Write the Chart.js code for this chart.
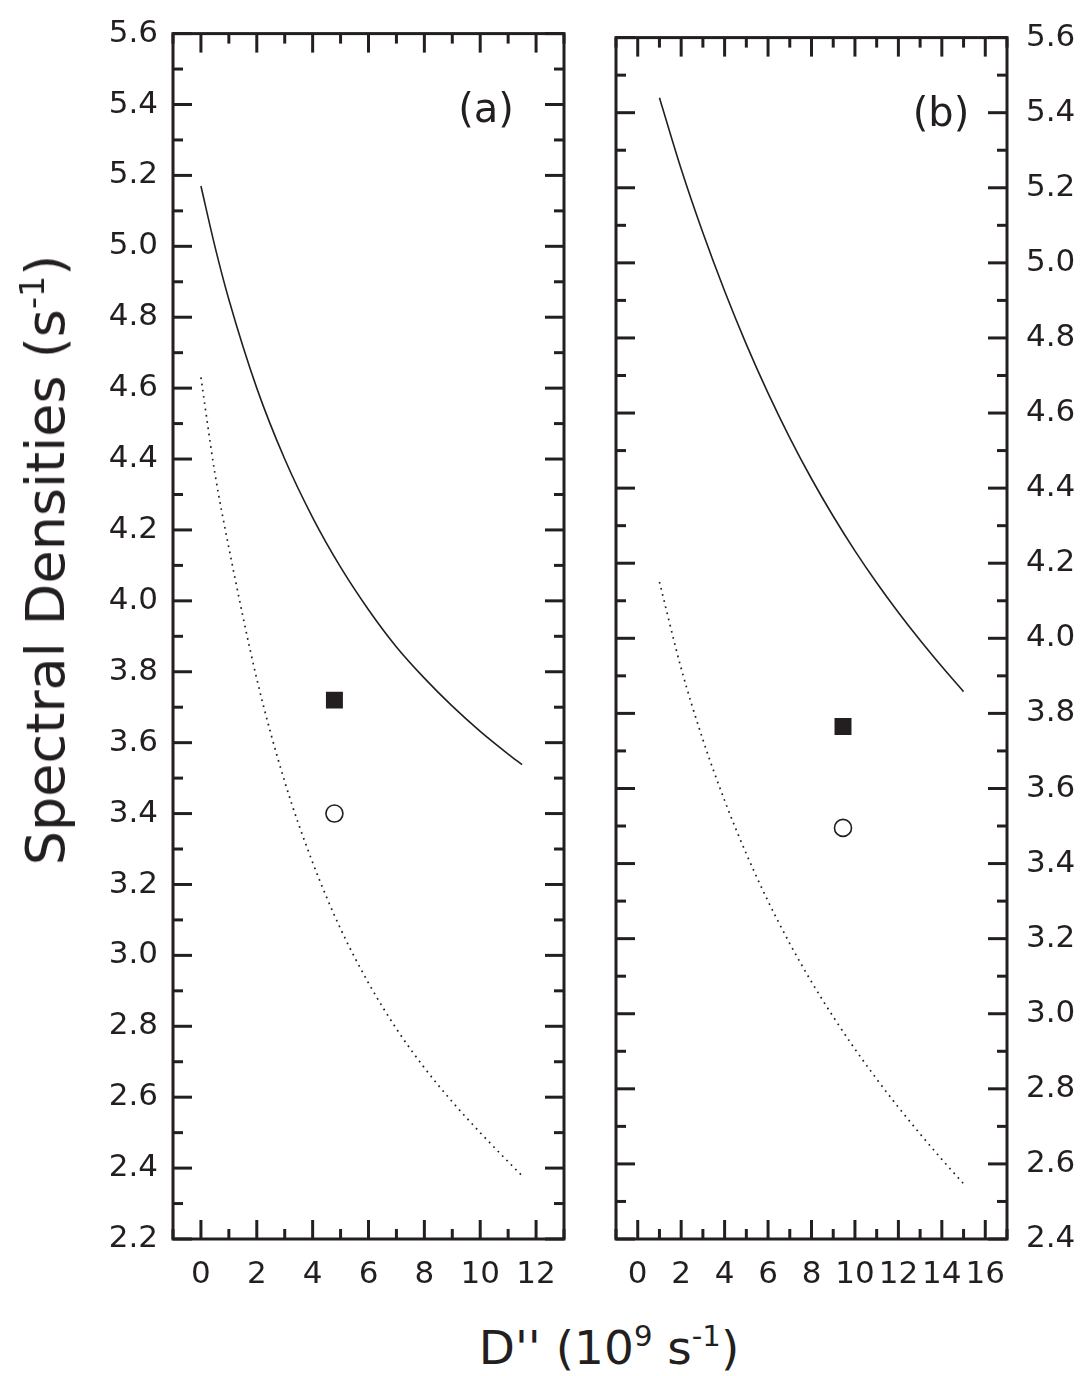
<!DOCTYPE html>
<html lang="en">
<head>
    <meta charset="UTF-8">
    <title>Spectral Densities vs D''</title>
    <script src="https://cdn.jsdelivr.net/npm/chart.js"></script>
    <style>
        body {
            margin: 0;
            background: #fff;
            font-family: "DejaVu Sans", sans-serif;
            color: #231f20;
        }
        #page {
            position: relative;
            width: 1083px;
            height: 1376px;
            overflow: hidden;
        }
        canvas {
            position: absolute;
            top: 0;
        }
        #chartA { left: 0; }
        #chartB { left: 590px; }
        .axis-title {
            position: absolute;
            white-space: nowrap;
            line-height: 1;
        }
        .axis-title sup {
            font-size: 0.62em;
            vertical-align: 0.6em;
            line-height: 0;
        }
        #yTitle {
            left: 46px;
            top: 560px;
            font-size: 54px;
            transform: translate(-50%, -50%) rotate(-90deg);
        }
        #xTitle {
            left: 609px;
            top: 1347px;
            font-size: 47px;
            transform: translate(-50%, -50%);
        }
    </style>
</head>
<body>
<div id="page">
    <canvas id="chartA" width="590" height="1300"></canvas>
    <canvas id="chartB" width="493" height="1300"></canvas>
    <div class="axis-title" id="yTitle">Spectral Densities (s<sup>-1</sup>)</div>
    <div class="axis-title" id="xTitle">D'' (10<sup>9</sup> s<sup>-1</sup>)</div>
</div>

<script>
    // panel (a)
    const xA = [0, 0.5, 1, 2, 3, 4, 5, 6, 7, 8, 9, 10, 11, 11.5];
    const solidA = [5.17, 5.00, 4.85, 4.60, 4.40, 4.235, 4.095, 3.975, 3.87, 3.782, 3.703, 3.632, 3.568, 3.538];
    const dottedA = [4.63, 4.36, 4.15, 3.78, 3.49, 3.262, 3.075, 2.922, 2.793, 2.683, 2.587, 2.50, 2.418, 2.378];
    const squareA = [{ x: 4.78, y: 3.72 }];
    const circleA = [{ x: 4.78, y: 3.40 }];

    // panel (b)
    const xB = [1, 2, 3, 4, 5, 6, 7, 8, 9, 10, 11, 12, 13, 14, 15];
    const solidB = [5.44, 5.25, 5.08, 4.925, 4.783, 4.653, 4.534, 4.425, 4.325, 4.233, 4.148, 4.069, 3.995, 3.925, 3.858];
    const dottedB = [4.15, 3.92, 3.73, 3.568, 3.426, 3.30, 3.187, 3.085, 2.992, 2.906, 2.826, 2.751, 2.68, 2.612, 2.547];
    const squareB = [{ x: 9.45, y: 3.765 }];
    const circleB = [{ x: 9.45, y: 3.495 }];

    // tick labels
    const xTicksA = [0, 2, 4, 6, 8, 10, 12];
    const xTicksB = [0, 2, 4, 6, 8, 10, 12, 14, 16];
    const yTicksA = [2.2, 2.4, 2.6, 2.8, 3.0, 3.2, 3.4, 3.6, 3.8, 4.0, 4.2, 4.4, 4.6, 4.8, 5.0, 5.2, 5.4, 5.6];
    const yTicksB = [2.4, 2.6, 2.8, 3.0, 3.2, 3.4, 3.6, 3.8, 4.0, 4.2, 4.4, 4.6, 4.8, 5.0, 5.2, 5.4, 5.6];

    const ink = '#231f20';
    const tickFont = { family: 'DejaVu Sans', size: 31 };

    const toPoints = (xs, ys) => xs.map((x, i) => ({ x: x, y: ys[i] }));

    // midpoints between major ticks, plus one step beyond each end
    function minorsOf(major) {
        const step = major[1] - major[0];
        const out = [major[0] - step / 2];
        major.forEach(v => out.push(v + step / 2));
        return out;
    }

    // box frame with inward ticks on all four sides + panel label
    const frameTicks = {
        id: 'frameTicks',
        afterDraw(chart, args, o) {
            const { ctx, chartArea: a } = chart;
            const xs = chart.scales.x, ys = chart.scales.y;
            ctx.save();
            ctx.strokeStyle = ink;
            ctx.lineWidth = 3;
            const seg = (x1, y1, x2, y2) => {
                ctx.beginPath();
                ctx.moveTo(x1, y1);
                ctx.lineTo(x2, y2);
                ctx.stroke();
            };
            const xTick = (v, len) => {
                if (v < xs.min || v > xs.max) return;
                const p = xs.getPixelForValue(v);
                seg(p, a.bottom, p, a.bottom - len);
                seg(p, a.top, p, a.top + len);
            };
            const yTick = (v, len) => {
                if (v < ys.min - 1e-9 || v > ys.max + 1e-9) return;
                const p = ys.getPixelForValue(v);
                seg(a.left, p, a.left + len, p);
                seg(a.right, p, a.right - len, p);
            };
            o.xMajor.forEach(v => xTick(v, 19));
            minorsOf(o.xMajor).forEach(v => xTick(v, 10));
            o.yMajor.forEach(v => yTick(v, 19));
            minorsOf(o.yMajor).forEach(v => yTick(v, 10));
            ctx.strokeRect(a.left, a.top, a.right - a.left, a.bottom - a.top);

            ctx.fillStyle = ink;
            ctx.font = '40px "DejaVu Sans"';
            ctx.textAlign = 'center';
            ctx.textBaseline = 'middle';
            ctx.fillText(o.label, a.right - o.labelDx, a.top + 78);
            ctx.restore();
        }
    };

    function makePanel(id, cfg) {
        return new Chart(document.getElementById(id), {
            type: 'scatter',
            data: {
                datasets: [
                    {
                        data: toPoints(cfg.xs, cfg.solid),
                        showLine: true,
                        borderColor: ink,
                        borderWidth: 1.6,
                        pointRadius: 0,
                        cubicInterpolationMode: 'monotone'
                    },
                    {
                        data: toPoints(cfg.xs, cfg.dotted),
                        showLine: true,
                        borderColor: ink,
                        borderWidth: 1.7,
                        borderDash: [1.7, 4.6],
                        pointRadius: 0,
                        cubicInterpolationMode: 'monotone'
                    },
                    {
                        data: cfg.square,
                        pointStyle: 'rect',
                        pointRadius: 12,
                        backgroundColor: ink,
                        borderColor: ink,
                        borderWidth: 0
                    },
                    {
                        data: cfg.circle,
                        pointStyle: 'circle',
                        pointRadius: 8.5,
                        backgroundColor: '#fff',
                        borderColor: ink,
                        borderWidth: 1.6
                    }
                ]
            },
            options: {
                responsive: false,
                animation: false,
                events: [],
                layout: { padding: cfg.padding },
                plugins: {
                    legend: { display: false },
                    tooltip: { enabled: false },
                    frameTicks: {
                        xMajor: cfg.xTicks,
                        yMajor: cfg.yTicks,
                        label: cfg.label,
                        labelDx: cfg.labelDx
                    }
                },
                scales: {
                    x: {
                        type: 'linear',
                        min: cfg.xMin,
                        max: cfg.xMax,
                        grid: { display: false, drawTicks: false },
                        border: { display: false },
                        afterBuildTicks: s => { s.ticks = cfg.xTicks.map(v => ({ value: v })); },
                        afterFit: s => { s.height = 61; },
                        ticks: {
                            autoSkip: false,
                            maxRotation: 0,
                            padding: 17,
                            color: ink,
                            font: tickFont,
                            callback: v => String(v)
                        }
                    },
                    y: {
                        type: 'linear',
                        position: cfg.yPos,
                        min: cfg.yMin,
                        max: cfg.yMax,
                        grid: { display: false, drawTicks: false },
                        border: { display: false },
                        afterBuildTicks: s => { s.ticks = cfg.yTicks.map(v => ({ value: v })); },
                        afterFit: s => { s.width = cfg.yWidth; },
                        ticks: {
                            autoSkip: false,
                            padding: cfg.yPad,
                            color: ink,
                            font: tickFont,
                            callback: v => Number(v).toFixed(1)
                        }
                    }
                }
            },
            plugins: [frameTicks]
        });
    }

    makePanel('chartA', {
        xs: xA, solid: solidA, dotted: dottedA, square: squareA, circle: circleA,
        xTicks: xTicksA, yTicks: yTicksA,
        xMin: -1, xMax: 13, yMin: 2.2, yMax: 5.6,
        yPos: 'left', yWidth: 173, yPad: 15,
        padding: { top: 30, right: 26, bottom: 0, left: 0 },
        label: '(a)', labelDx: 78
    });

    makePanel('chartB', {
        xs: xB, solid: solidB, dotted: dottedB, square: squareB, circle: circleB,
        xTicks: xTicksB, yTicks: yTicksB,
        xMin: -1, xMax: 17, yMin: 2.4, yMax: 5.6,
        yPos: 'right', yWidth: 76, yPad: 19,
        padding: { top: 30, right: 0, bottom: 0, left: 26 },
        label: '(b)', labelDx: 66
    });
</script>
</body>
</html>
